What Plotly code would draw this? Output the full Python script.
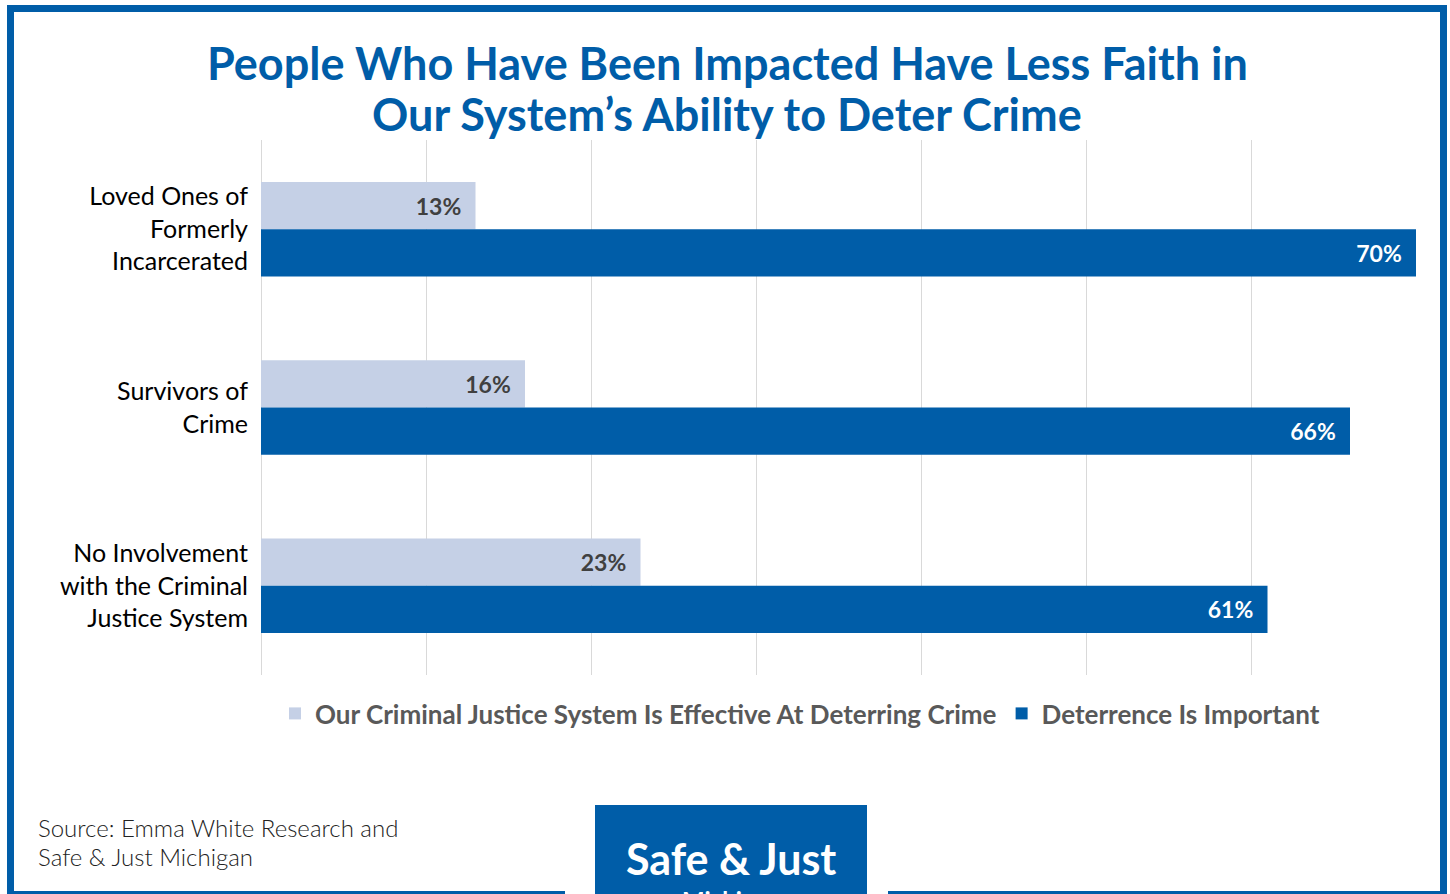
import plotly.graph_objects as go

# Survey groups (top to bottom) and the share agreeing with each statement
groups = [
    "Loved Ones of<br>Formerly<br>Incarcerated",
    "Survivors of<br>Crime",
    "No Involvement<br>with the Criminal<br>Justice System",
]
effective = [13, 16, 23]
important = [70, 66, 61]

series_names = [
    "Our Criminal Justice System Is Effective At Deterring Crime",
    "Deterrence Is Important",
]
title_lines = [
    "People Who Have Been Impacted Have Less Faith in",
    "Our System’s Ability to Deter Crime",
]
source_lines = ["Source: Emma White Research and", "Safe & Just Michigan"]

BLUE = "#005DA8"
LIGHT = "#C5D0E6"
FONT = "Lato"

W, H = 1450, 894
ML, MR, MT, MB = 261, 34, 140, 219

fig = go.Figure()
fig.add_trace(go.Bar(
    y=groups, x=effective, name=series_names[0], orientation="h",
    marker=dict(color=LIGHT, line=dict(width=0)),
    texttemplate="%{x}%\u00a0\u00a0", textposition="inside", insidetextanchor="end",
    textfont=dict(family=FONT, size=23, color="#404040", weight="bold"),
    hoverinfo="skip",
))
fig.add_trace(go.Bar(
    y=groups, x=important, name=series_names[1], orientation="h",
    marker=dict(color=BLUE, line=dict(width=0)),
    texttemplate="%{x}%\u00a0\u00a0", textposition="inside", insidetextanchor="end",
    textfont=dict(family=FONT, size=23, color="white", weight="bold"),
    hoverinfo="skip",
))


def px(x):
    return (x - ML) / (W - ML - MR)


def py(y):
    return (H - MB - y) / (H - MT - MB)


fig.update_layout(
    width=W, height=H,
    margin=dict(l=ML, r=MR, t=MT, b=MB),
    paper_bgcolor="white", plot_bgcolor="white",
    barmode="group", bargap=0.47, bargroupgap=0,
    xaxis=dict(
        range=[0, 70], dtick=10, showticklabels=False, showgrid=True,
        gridcolor="#D9D9D9", gridwidth=1, zeroline=True, zerolinecolor="#D9D9D9",
        zerolinewidth=1, showline=False, fixedrange=True,
    ),
    yaxis=dict(
        autorange="reversed", showgrid=False, ticks="", ticklabelstandoff=12,
        tickfont=dict(family=FONT, size=25, color="black"),
        fixedrange=True,
    ),
    legend=dict(
        orientation="h", x=px(800), xanchor="center", y=py(690), yanchor="top",
        font=dict(family=FONT, size=26, color="#595959", weight="bold"),
        itemwidth=30, traceorder="normal",
    ),
    showlegend=True,
)

# Title, one annotation per line
for text, yc in zip(title_lines, [63, 114]):
    fig.add_annotation(
        xref="paper", yref="paper", x=px(727), y=py(yc), xanchor="center", yanchor="middle",
        text=text, showarrow=False,
        font=dict(family=FONT, size=45, color=BLUE, weight="bold"),
    )

# Frame around the chart and the logo block
frame = dict(type="rect", xref="paper", yref="paper", line=dict(width=0), fillcolor=BLUE, layer="above")
shapes = [
    dict(frame, x0=px(7), x1=px(1447), y0=py(5), y1=py(12)),      # top
    dict(frame, x0=px(7), x1=px(14), y0=py(5), y1=py(894)),       # left
    dict(frame, x0=px(1440), x1=px(1447), y0=py(5), y1=py(894)),  # right
    dict(frame, x0=px(14), x1=px(565), y0=py(891), y1=py(894)),   # bottom left
    dict(frame, x0=px(888), x1=px(1440), y0=py(891), y1=py(894)), # bottom right
    dict(frame, x0=px(595), x1=px(867), y0=py(805), y1=py(894)),  # logo block
]
fig.update_layout(shapes=shapes)

# Source note
for text, yc in zip(source_lines, [828, 856]):
    fig.add_annotation(
        xref="paper", yref="paper", x=px(36), y=py(yc), xanchor="left", yanchor="middle",
        text=text, showarrow=False, align="left",
        font=dict(family=FONT, size=24, color="#222222", weight=300),
    )

# Logo text
fig.add_annotation(
    xref="paper", yref="paper", x=px(731), y=py(858), xanchor="center", yanchor="middle",
    text="Safe & Just", showarrow=False,
    font=dict(family=FONT, size=43, color="white", weight="bold"),
)
fig.add_annotation(
    xref="paper", yref="paper", x=px(731), y=py(884), xanchor="center", yanchor="top",
    text="Michigan", showarrow=False,
    font=dict(family=FONT, size=24, color="white", weight="bold"),
)

fig.write_html("out.html")
